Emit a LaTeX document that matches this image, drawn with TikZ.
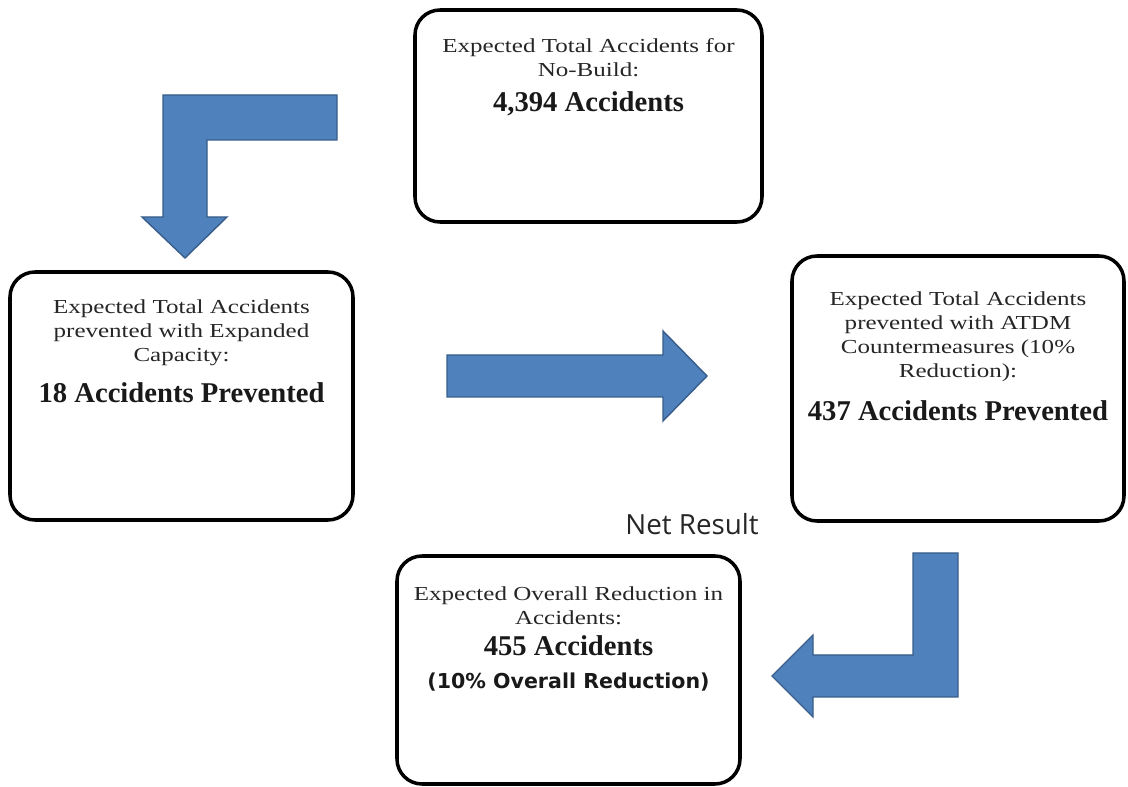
\documentclass[tikz,border=0pt]{standalone}
\usepackage{fontspec}
\setmainfont{Liberation Serif}
\newfontfamily\widefont[FakeStretch=1.26]{Liberation Serif}
\newfontfamily\dejafont{DejaVu Sans}
\newfontfamily\netfont{Open Sans}
\usepackage{tikz}
\usetikzlibrary{positioning}
\definecolor{arrowblue}{RGB}{79,129,189}
\definecolor{arrowedge}{RGB}{56,93,138}

\begin{document}
\begin{tikzpicture}[font=\widefont\fontsize{11.3}{13.7}\selectfont]
  \tikzstyle{box}=[rectangle,rounded corners=0.5cm,draw=black,line width=2pt,
                   minimum width=6.86cm,minimum height=4.96cm,inner sep=0pt]
  \tikzstyle{txt}=[anchor=north,align=center,inner sep=0pt,text=black!85]
  \tikzstyle{big}=[anchor=base,inner sep=0pt,text=black!90,
                   font=\rmfamily\bfseries\fontsize{16.3}{19}\selectfont]
  \tikzstyle{blockarr}=[fill=arrowblue,draw=arrowedge,line width=0.8pt]
  \useasboundingbox (0,0) rectangle (22.56,-15.74);

  % boxes
  \node[box,minimum width=6.94cm,minimum height=4.24cm](nobuild) at (11.77,-2.32){};
  \node[box](expand) at (3.63,-7.92){};
  \node[box,minimum width=6.64cm,minimum height=5.30cm](atdm) at (19.16,-7.77){};
  \node[box,minimum height=4.56cm](overall) at (11.37,-13.40){};

  % box texts
  \node[txt](nobuildtxt) at ([yshift=-0.60cm]nobuild.north)
    {Expected Total Accidents for\\No-Build:};
  \node[big](nobuildnum) at ([yshift=-2.06cm]nobuild.north){4,394 Accidents};
  \node[txt](expandtxt) at ([yshift=-0.58cm]expand.north)
    {Expected Total Accidents\\prevented with Expanded\\Capacity:};
  \node[big](expandnum) at ([yshift=-2.64cm]expand.north){18 Accidents Prevented};
  \node[txt](atdmtxt) at ([yshift=-0.74cm]atdm.north)
    {Expected Total Accidents\\prevented with ATDM\\Countermeasures (10\%\\Reduction):};
  \node[big](atdmnum) at ([yshift=-3.32cm]atdm.north){437 Accidents Prevented};
  \node[txt](overalltxt) at ([yshift=-0.64cm]overall.north)
    {Expected Overall Reduction in\\Accidents:};
  \node[big](overallnum) at ([yshift=-2.02cm]overall.north){455 Accidents};
  \node[anchor=base,inner sep=0pt,text=black!90,
        font=\dejafont\bfseries\fontsize{11.7}{14}\selectfont]
    (overallpct) at ([yshift=-2.68cm]overall.north){(10\% Overall Reduction)};

  \node[anchor=base west,inner sep=0pt,text=black!85,
        font=\netfont\fontsize{15.8}{18}\selectfont](net) at (12.5,-10.70){Net Result};

  % block arrows
  \draw[blockarr] (6.74,-1.90) -- (3.26,-1.90) -- (3.26,-4.34) -- (2.84,-4.34)
    -- (3.70,-5.16) -- (4.54,-4.34) -- (4.14,-4.34) -- (4.14,-2.80)
    -- (6.74,-2.80) -- cycle;
  \draw[blockarr] (8.94,-7.10) -- (13.26,-7.10) -- (13.26,-6.62) -- (14.14,-7.52)
    -- (13.26,-8.42) -- (13.26,-7.94) -- (8.94,-7.94) -- cycle;
  \draw[blockarr] (18.26,-11.06) -- (19.16,-11.06) -- (19.16,-13.94) -- (16.26,-13.94)
    -- (16.26,-14.34) -- (15.44,-13.52) -- (16.26,-12.70) -- (16.26,-13.10)
    -- (18.26,-13.10) -- cycle;
\end{tikzpicture}
\end{document}
